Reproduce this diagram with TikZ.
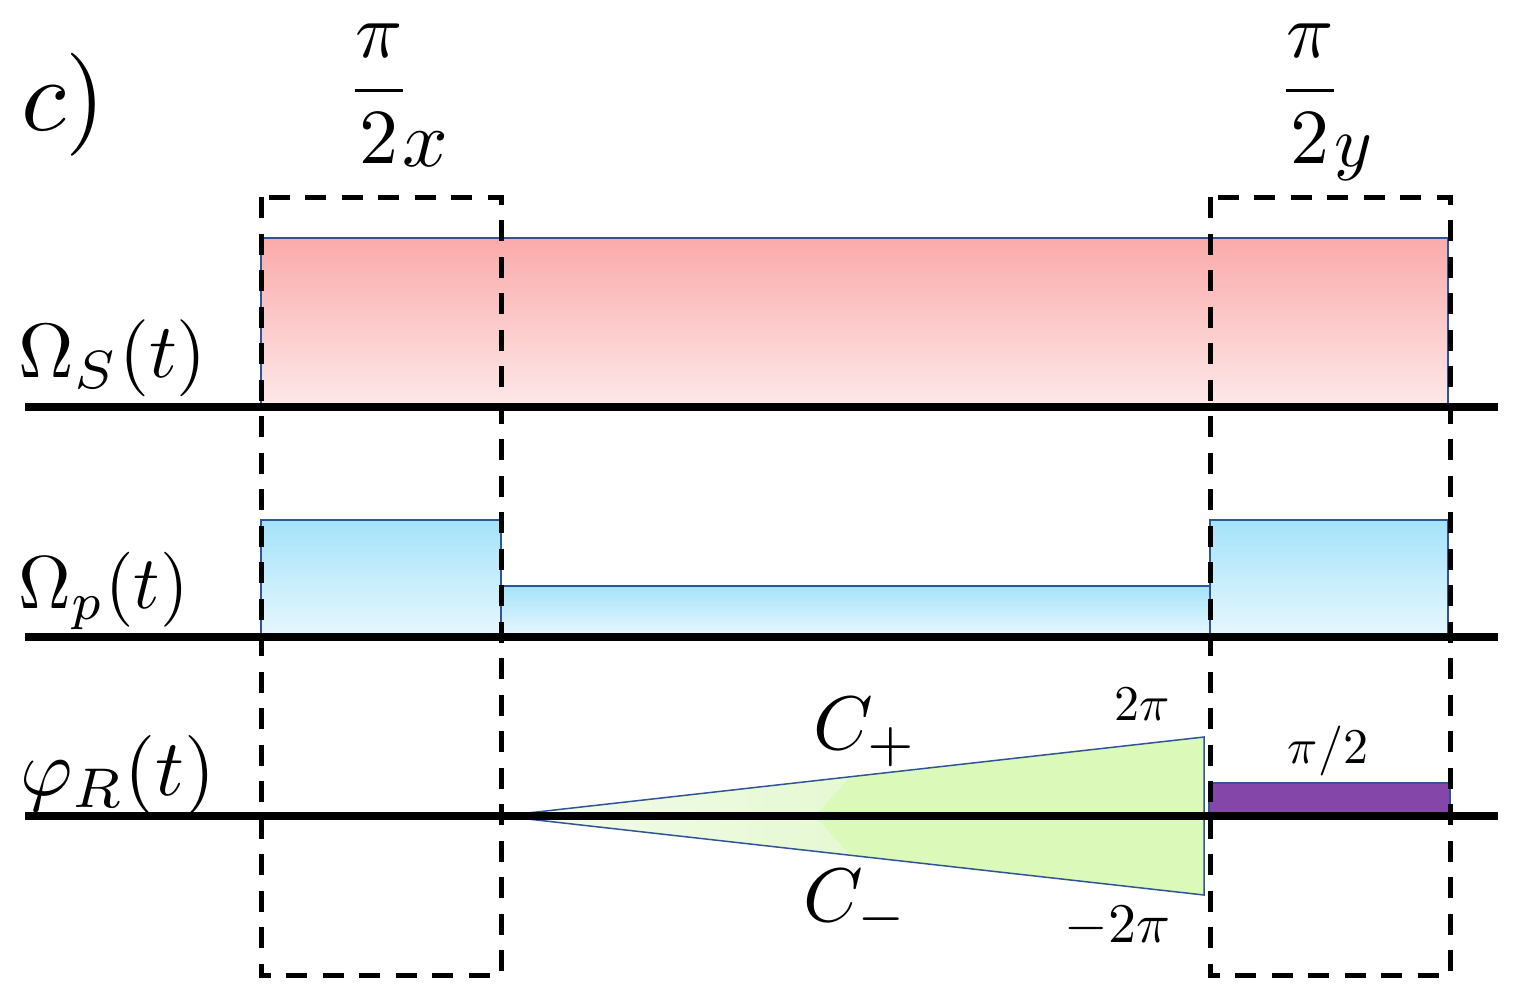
\documentclass[tikz,border=0pt]{standalone}
\usepackage{amsmath}
\definecolor{outl}{RGB}{47,85,151}
\definecolor{redtop}{RGB}{251,170,170}
\definecolor{redbot}{RGB}{253,232,232}
\definecolor{bluetop}{RGB}{164,227,250}
\definecolor{bluebot}{RGB}{230,247,254}
\definecolor{greenfull}{RGB}{219,249,184}
\definecolor{greenlight}{RGB}{244,251,236}
\definecolor{greenmid}{RGB}{229,249,210}
\definecolor{purp}{RGB}{132,70,169}
\tikzset{
  axisline/.style={line width=8pt, black},
  boxdash/.style={line width=5pt, dash pattern=on 21pt off 15.5pt, black},
  outline/.style={draw=outl, line width=1.5pt},
  lbl/.style={inner sep=0pt, outer sep=0pt},
  redgrad/.style={top color=redtop, bottom color=redbot},
  bluegrad/.style={top color=bluetop, bottom color=bluebot},
}
\begin{document}
\begin{tikzpicture}[x=1pt,y=-1pt]
\useasboundingbox (0,0) rectangle (1518,997);
% Omega_S pulse
\fill[redgrad] (261,238) rectangle (1448,405);
\draw[outline] (261,405) -- (261,238) -- (1448,238) -- (1448,405);
% Omega_p pulses
\fill[bluegrad] (261,520) rectangle (501,634);
\draw[outline] (261,634) -- (261,520) -- (501,520) -- (501,634);
\fill[bluegrad] (501,586) rectangle (1210,634);
\draw[outline] (501,634) -- (501,586) -- (1210,586) -- (1210,634);
\fill[bluegrad] (1210,520) rectangle (1448,634);
\draw[outline] (1210,634) -- (1210,520) -- (1448,520) -- (1448,634);
% phase cone
\coordinate (tip) at (501,816);
\coordinate (tr) at (1204,737);
\coordinate (br) at (1204,895);
\coordinate (cu) at (850,776.8);
\coordinate (cm) at (815,816);
\coordinate (cl) at (850,855.2);
\shade[left color=greenlight, right color=greenmid] (tip) -- (cu) -- (cm) -- (cl) -- cycle;
\fill[greenfull] (cu) -- (tr) -- (br) -- (cl) -- (cm) -- cycle;
\draw[outline] (tr) -- (tip) -- (br) -- cycle;
% purple phase
\fill[purp] (1209,783) rectangle (1450,814);
\draw[outline] (1209,814) -- (1209,783) -- (1450,783) -- (1450,814);
% axes
\draw[axisline] (25,407) -- (1498,407);
\draw[axisline] (25,637) -- (1498,637);
\draw[axisline] (25,816) -- (1498,816);
% dashed boxes
\draw[boxdash] (261,197) rectangle (501,975);
\draw[boxdash] (1210,197) rectangle (1450,975);
% labels
\node[lbl, anchor=base west, scale=10.3] (c) at (21,130) {$c\mathclose{)}$};
\node[lbl, anchor=base, scale=7.8] (fx) at (379,110) {$\dfrac{\pi}{2}$};
\node[lbl, anchor=base west, scale=8] (xx) at (402,166) {$x$};
\node[lbl, anchor=base, scale=7.8] (fy) at (1310,110) {$\dfrac{\pi}{2}$};
\node[lbl, anchor=base west, scale=7.2] (yy) at (1334,166) {$y$};
\node[lbl, anchor=base west, scale=7.7] (oms) at (19,377) {$\Omega_S(t)$};
\node[lbl, anchor=base west, xscale=7.3, yscale=7.5] (omp) at (19,608) {$\Omega_p(t)$};
\node[lbl, anchor=base west, scale=8] (phr) at (20,795) {$\varphi_R(t)$};
\node[lbl, anchor=base west, scale=7.6] (cplus) at (813,749) {$C_+$};
\node[lbl, anchor=base west, scale=7.6] (cminus) at (803,921) {$C_-$};
\node[lbl, anchor=base east, scale=5] (tp) at (1170,720) {$2\pi$};
\node[lbl, anchor=base east, scale=5.6] (mtp) at (1170,942) {$-2\pi$};
\node[lbl, anchor=base, scale=5] (ph2) at (1328,763) {$\pi/2$};
\end{tikzpicture}
\end{document}
